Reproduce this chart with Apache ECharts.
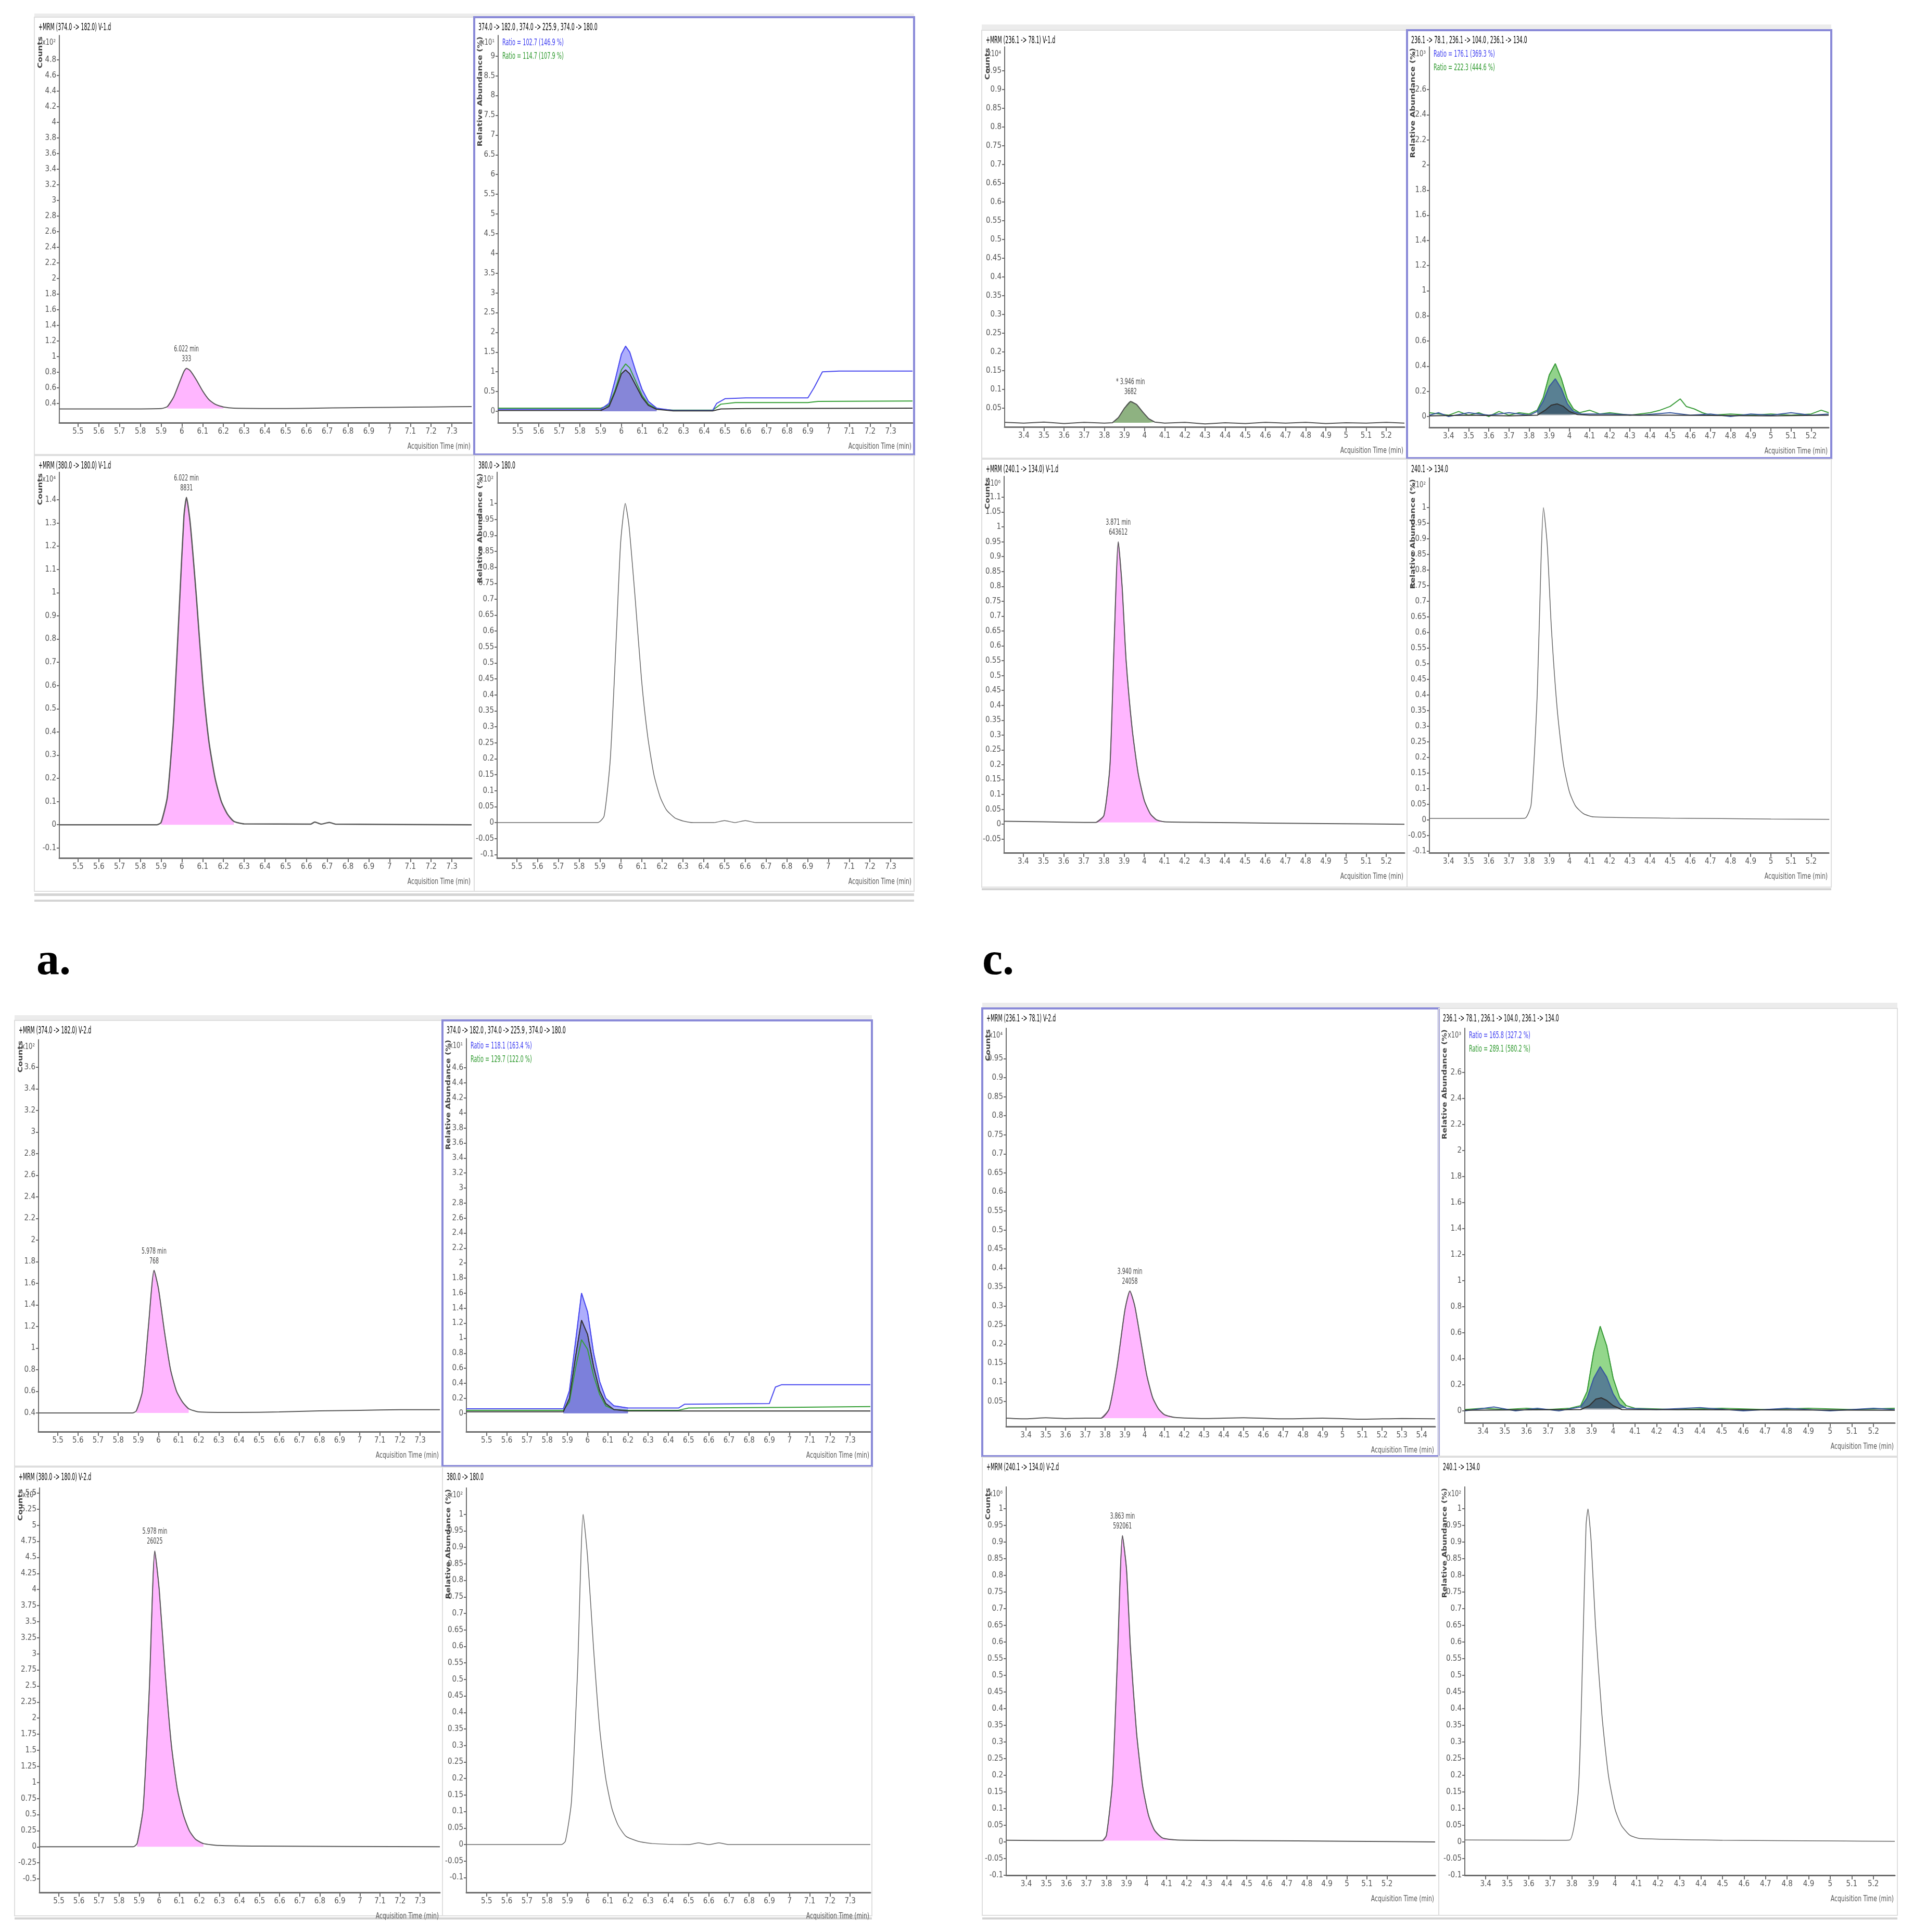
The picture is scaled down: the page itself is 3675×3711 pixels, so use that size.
<!DOCTYPE html>
<html>
<head>
<meta charset="utf-8">
<script src="https://cdn.jsdelivr.net/npm/echarts@6/dist/echarts.min.js"></script>
<style>
html,body{margin:0;padding:0;background:#fff}
#main{width:3675px;height:3711px}
</style>
</head>
<body>
<div id="main"></div>
<script>
var FONT = '"Liberation Sans Narrow","DejaVu Sans Condensed","Liberation Sans",Arial,sans-serif';
var AXIS = '#6e6e6e';
var PINK = '#ffb6ff';
var PINK_EDGE = '#8d5e8d';

// tick labels
var xTicksA = [5.5,5.6,5.7,5.8,5.9,6,6.1,6.2,6.3,6.4,6.5,6.6,6.7,6.8,6.9,7,7.1,7.2,7.3];
var xTicksC = [3.4,3.5,3.6,3.7,3.8,3.9,4,4.1,4.2,4.3,4.4,4.5,4.6,4.7,4.8,4.9,5,5.1,5.2];
var xTicksD1 = [3.4,3.5,3.6,3.7,3.8,3.9,4,4.1,4.2,4.3,4.4,4.5,4.6,4.7,4.8,4.9,5,5.1,5.2,5.3,5.4];

var yTicksA1 = [0.4,0.6,0.8,1,1.2,1.4,1.6,1.8,2,2.2,2.4,2.6,2.8,3,3.2,3.4,3.6,3.8,4,4.2,4.4,4.6,4.8];
var yTicksA2 = [0,0.5,1,1.5,2,2.5,3,3.5,4,4.5,5,5.5,6,6.5,7,7.5,8,8.5,9];
var yTicksA3 = [-0.1,0,0.1,0.2,0.3,0.4,0.5,0.6,0.7,0.8,0.9,1,1.1,1.2,1.3,1.4];
var yTicksRel = [-0.1,-0.05,0,0.05,0.1,0.15,0.2,0.25,0.3,0.35,0.4,0.45,0.5,0.55,0.6,0.65,0.7,0.75,0.8,0.85,0.9,0.95,1];
var yTicksB1 = [0.4,0.6,0.8,1,1.2,1.4,1.6,1.8,2,2.2,2.4,2.6,2.8,3,3.2,3.4,3.6];
var yTicksB2 = [0,0.2,0.4,0.6,0.8,1,1.2,1.4,1.6,1.8,2,2.2,2.4,2.6,2.8,3,3.2,3.4,3.6,3.8,4,4.2,4.4,4.6];
var yTicksB3 = [-0.5,-0.25,0,0.25,0.5,0.75,1,1.25,1.5,1.75,2,2.25,2.5,2.75,3,3.25,3.5,3.75,4,4.25,4.5,4.75,5,5.25,5.5];
var yTicksC1 = [0.05,0.1,0.15,0.2,0.25,0.3,0.35,0.4,0.45,0.5,0.55,0.6,0.65,0.7,0.75,0.8,0.85,0.9,0.95];
var yTicksC2 = [0,0.2,0.4,0.6,0.8,1,1.2,1.4,1.6,1.8,2,2.2,2.4,2.6];
var yTicksC3 = [-0.05,0,0.05,0.1,0.15,0.2,0.25,0.3,0.35,0.4,0.45,0.5,0.55,0.6,0.65,0.7,0.75,0.8,0.85,0.9,0.95,1,1.05,1.1];

// traces  [time (min), signal]
var a1Trace = [[5.41,0.33],[5.7,0.33],[5.9,0.335],[5.93,0.36],[5.96,0.48],[5.99,0.68],[6.01,0.81],[6.022,0.85],[6.04,0.82],[6.07,0.7],[6.1,0.56],[6.13,0.45],[6.16,0.39],[6.2,0.355],[6.25,0.34],[6.5,0.335],[6.65,0.34],[6.8,0.345],[7.0,0.35],[7.2,0.355],[7.395,0.36]];
var a2Blue = [[5.405,0.05],[5.9,0.05],[5.94,0.2],[5.97,0.8],[6.0,1.45],[6.02,1.65],[6.04,1.5],[6.07,1.0],[6.1,0.55],[6.13,0.25],[6.17,0.08],[6.25,0.02],[6.44,0.02],[6.46,0.2],[6.5,0.32],[6.6,0.34],[6.9,0.34],[6.93,0.6],[6.97,1.0],[7.05,1.02],[7.405,1.02]];
var a2Black = [[5.405,0.02],[5.9,0.02],[5.94,0.12],[5.97,0.5],[6.0,0.95],[6.02,1.05],[6.04,0.95],[6.07,0.65],[6.1,0.35],[6.13,0.15],[6.17,0.05],[6.25,0.01],[6.44,0.01],[6.48,0.06],[6.6,0.07],[7.405,0.08]];
var a2Green = [[5.405,0.08],[5.9,0.08],[5.94,0.15],[5.97,0.55],[6.0,1.05],[6.02,1.2],[6.04,1.1],[6.07,0.75],[6.1,0.4],[6.13,0.18],[6.17,0.06],[6.25,0.03],[6.44,0.03],[6.48,0.18],[6.55,0.22],[6.9,0.22],[6.95,0.25],[7.405,0.26]];
var a3Trace = [[5.41,0],[5.88,0],[5.9,0.01],[5.93,0.12],[5.96,0.45],[5.99,0.98],[6.01,1.33],[6.022,1.41],[6.04,1.3],[6.07,0.98],[6.1,0.62],[6.13,0.36],[6.16,0.2],[6.19,0.1],[6.22,0.045],[6.25,0.015],[6.3,0.004],[6.62,0.003],[6.64,0.012],[6.67,0.003],[6.71,0.01],[6.74,0.003],[7.395,0]];
var a4Trace = [[5.405,0],[5.89,0],[5.92,0.02],[5.95,0.2],[5.98,0.6],[6.0,0.88],[6.022,1.0],[6.04,0.93],[6.07,0.7],[6.1,0.45],[6.13,0.27],[6.16,0.15],[6.19,0.08],[6.22,0.04],[6.26,0.015],[6.3,0.005],[6.35,0],[6.45,0],[6.5,0.006],[6.55,0],[6.6,0.006],[6.65,0],[7.405,0]];

var b1Trace = [[5.404,0.4],[5.87,0.4],[5.89,0.42],[5.92,0.6],[5.95,1.2],[5.978,1.72],[6.0,1.55],[6.03,1.15],[6.06,0.8],[6.09,0.6],[6.12,0.5],[6.15,0.44],[6.2,0.41],[6.4,0.405],[6.6,0.41],[6.8,0.42],[7.0,0.425],[7.2,0.43],[7.398,0.43]];
var b2Blue = [[5.40,0.06],[5.88,0.06],[5.91,0.3],[5.94,0.95],[5.97,1.6],[6.0,1.35],[6.03,0.8],[6.06,0.42],[6.09,0.2],[6.13,0.1],[6.2,0.07],[6.45,0.07],[6.48,0.12],[6.9,0.13],[6.93,0.35],[6.96,0.38],[7.4,0.38]];
var b2Black = [[5.40,0.02],[5.88,0.02],[5.91,0.2],[5.94,0.75],[5.97,1.24],[6.0,1.05],[6.03,0.62],[6.06,0.3],[6.09,0.13],[6.13,0.05],[6.2,0.03],[7.4,0.03]];
var b2Green = [[5.40,0.04],[5.88,0.04],[5.91,0.15],[5.94,0.6],[5.97,0.98],[6.0,0.85],[6.03,0.5],[6.06,0.25],[6.09,0.1],[6.13,0.05],[6.2,0.04],[6.45,0.04],[6.5,0.07],[7.0,0.08],[7.4,0.09]];
var b3Trace = [[5.404,0],[5.87,0],[5.89,0.05],[5.92,0.6],[5.95,2.4],[5.978,4.6],[6.0,4.0],[6.03,2.7],[6.06,1.6],[6.09,0.9],[6.12,0.5],[6.15,0.25],[6.18,0.12],[6.22,0.05],[6.3,0.02],[6.5,0.01],[7.398,0]];
var b4Trace = [[5.40,0],[5.87,0],[5.89,0.01],[5.92,0.13],[5.95,0.52],[5.978,1.0],[6.0,0.87],[6.03,0.59],[6.06,0.35],[6.09,0.2],[6.12,0.11],[6.15,0.06],[6.19,0.025],[6.25,0.01],[6.32,0.003],[6.5,0],[6.55,0.005],[6.6,0],[6.65,0.005],[6.7,0],[7.4,0]];

var c1Trace = [[3.305,0.012],[3.4,0.01],[3.5,0.013],[3.6,0.009],[3.7,0.012],[3.8,0.01],[3.84,0.011],[3.87,0.025],[3.9,0.05],[3.93,0.068],[3.96,0.06],[3.99,0.04],[4.02,0.022],[4.05,0.013],[4.1,0.01],[4.2,0.012],[4.3,0.008],[4.4,0.011],[4.5,0.009],[4.6,0.012],[4.7,0.01],[4.8,0.012],[4.9,0.009],[5.0,0.011],[5.1,0.01],[5.2,0.012],[5.29,0.01]];
var c2Green = [[3.305,0.03],[3.4,0.01],[3.45,0.04],[3.5,0.01],[3.55,0.03],[3.6,0.0],[3.65,0.04],[3.7,0.01],[3.75,0.03],[3.8,0.02],[3.84,0.05],[3.87,0.15],[3.9,0.33],[3.93,0.42],[3.96,0.3],[3.99,0.14],[4.02,0.06],[4.05,0.03],[4.1,0.05],[4.15,0.02],[4.2,0.03],[4.3,0.01],[4.4,0.03],[4.45,0.05],[4.5,0.08],[4.55,0.14],[4.58,0.08],[4.62,0.06],[4.66,0.03],[4.7,0.01],[4.8,0.02],[4.9,0.01],[5.0,0.02],[5.1,0.01],[5.2,0.02],[5.25,0.05],[5.287,0.03]];
var c2Blue = [[3.305,0.01],[3.35,0.03],[3.4,0.0],[3.5,0.03],[3.6,0.01],[3.7,0.03],[3.8,0.01],[3.84,0.04],[3.87,0.12],[3.9,0.24],[3.93,0.3],[3.96,0.22],[3.99,0.1],[4.02,0.04],[4.06,0.02],[4.2,0.02],[4.35,0.01],[4.5,0.03],[4.6,0.01],[4.7,0.02],[4.8,0.0],[4.9,0.02],[5.0,0.01],[5.1,0.03],[5.2,0.01],[5.287,0.02]];
var c2Black = [[3.305,0.005],[3.5,0.01],[3.7,0.005],[3.84,0.01],[3.88,0.05],[3.91,0.09],[3.94,0.1],[3.97,0.08],[4.0,0.04],[4.04,0.015],[4.1,0.01],[4.5,0.01],[5.0,0.005],[5.287,0.01]];
var c3Trace = [[3.305,0.01],[3.5,0.008],[3.7,0.006],[3.76,0.006],[3.8,0.03],[3.83,0.2],[3.85,0.6],[3.871,0.95],[3.89,0.8],[3.91,0.55],[3.94,0.32],[3.97,0.17],[4.0,0.08],[4.03,0.035],[4.06,0.015],[4.1,0.008],[4.3,0.006],[4.6,0.004],[4.9,0.002],[5.29,0.0]];
var c4Trace = [[3.305,0.005],[3.7,0.005],[3.78,0.006],[3.81,0.05],[3.84,0.4],[3.86,0.85],[3.871,1.0],[3.89,0.88],[3.91,0.62],[3.94,0.35],[3.97,0.18],[4.0,0.09],[4.03,0.045],[4.07,0.02],[4.12,0.01],[4.5,0.006],[5.0,0.003],[5.29,0.002]];

var d1Trace = [[3.3,0.006],[3.4,0.004],[3.5,0.007],[3.6,0.005],[3.7,0.006],[3.78,0.006],[3.82,0.03],[3.86,0.14],[3.9,0.29],[3.925,0.34],[3.95,0.3],[3.98,0.21],[4.01,0.12],[4.04,0.06],[4.07,0.03],[4.1,0.015],[4.15,0.008],[4.3,0.005],[4.5,0.007],[4.7,0.004],[4.9,0.006],[5.1,0.003],[5.3,0.005],[5.468,0.004]];
var d2Green = [[3.316,0.01],[3.4,0.02],[3.5,0.01],[3.6,0.02],[3.7,0.01],[3.8,0.02],[3.85,0.04],[3.88,0.15],[3.91,0.45],[3.94,0.65],[3.97,0.5],[4.0,0.25],[4.03,0.1],[4.06,0.04],[4.1,0.02],[4.3,0.01],[4.5,0.02],[4.7,0.01],[4.9,0.02],[5.1,0.01],[5.298,0.02]];
var d2Blue = [[3.316,0.0],[3.45,0.03],[3.55,0.0],[3.65,0.02],[3.75,0.0],[3.85,0.03],[3.88,0.1],[3.91,0.25],[3.94,0.34],[3.97,0.26],[4.0,0.13],[4.03,0.05],[4.06,0.02],[4.2,0.01],[4.4,0.025],[4.6,0.0],[4.8,0.02],[5.0,0.0],[5.2,0.02],[5.298,0.01]];
var d2Black = [[3.316,0.005],[3.85,0.01],[3.89,0.04],[3.92,0.09],[3.945,0.1],[3.97,0.08],[4.0,0.04],[4.04,0.01],[5.298,0.005]];
var d3Trace = [[3.30,0.005],[3.6,0.004],[3.78,0.004],[3.8,0.02],[3.83,0.18],[3.855,0.55],[3.88,0.92],[3.9,0.82],[3.92,0.58],[3.95,0.33],[3.98,0.17],[4.01,0.08],[4.04,0.035],[4.08,0.012],[4.15,0.006],[4.5,0.004],[5.0,0.002],[5.44,0.0]];
var d4Trace = [[3.303,0.006],[3.7,0.005],[3.79,0.006],[3.83,0.15],[3.85,0.55],[3.866,0.95],[3.875,1.0],[3.89,0.9],[3.91,0.65],[3.94,0.38],[3.97,0.2],[4.0,0.1],[4.03,0.05],[4.07,0.02],[4.12,0.01],[4.5,0.005],[5.0,0.003],[5.3,0.002]];

// peak annotations: [time, height, retention text, area text]
var peakA1 = [6.022, 0.85, '6.022 min', '333'];
var peakA3 = [6.022, 1.41, '6.022 min', '8831'];
var peakB1 = [5.978, 1.72, '5.978 min', '768'];
var peakB3 = [5.978, 4.6, '5.978 min', '26025'];
var peakC1 = [3.93, 0.068, '* 3.946 min', '3682'];
var peakC3 = [3.871, 0.95, '3.871 min', '643612'];
var peakD1 = [3.925, 0.34, '3.940 min', '24058'];
var peakD3 = [3.88, 0.92, '3.863 min', '592061'];

var chart = echarts.init(document.getElementById('main'), null, {renderer: 'canvas'});

// panel layout: frame [l,t,w,h], grid [l,t,w,h] in px
var panels = [
  {frame:[66,33,845,840], grid:[114,68,792,744], x:[5.41,7.395], xt:xTicksA, y:[0.153,5.113], yt:yTicksA1, exp:'x10²', yname:'Counts',
   title:'{k|+MRM (374.0 -> 182.0) V-1.d}'},
  {frame:[911,33,845,840], grid:[957,68,796,744], x:[5.405,7.405], xt:xTicksA, y:[-0.29,9.525], yt:yTicksA2, exp:'x10¹', yname:'Relative Abundance (%)', sel:true,
   title:'{k|374.0 -> 182.0} {b|, 374.0 -> 225.9} {g|, 374.0 -> 180.0}', ratio:['Ratio = 102.7 (146.9 %)','Ratio = 114.7 (107.9 %)']},
  {frame:[66,875,845,837], grid:[114,907,792,741], x:[5.41,7.395], xt:xTicksA, y:[-0.143,1.519], yt:yTicksA3, exp:'x10⁴', yname:'Counts',
   title:'{k|+MRM (380.0 -> 180.0) V-1.d}'},
  {frame:[911,875,845,837], grid:[955,907,798,741], x:[5.405,7.405], xt:xTicksA, y:[-0.111,1.098], yt:yTicksRel, exp:'x10²', yname:'Relative Abundance (%)',
   title:'{k|380.0 -> 180.0}'},

  {frame:[1886,58,817,822], grid:[1930,90,768,730], x:[3.305,5.29], xt:xTicksC, y:[0,1.014], yt:yTicksC1, exp:'x10⁴', yname:'Counts',
   title:'{k|+MRM (236.1 -> 78.1) V-1.d}'},
  {frame:[2703,58,815,822], grid:[2746,90,767,731], x:[3.305,5.287], xt:xTicksC, y:[-0.087,2.94], yt:yTicksC2, exp:'x10³', yname:'Relative Abundance (%)', sel:true,
   title:'{k|236.1 -> 78.1} {b|, 236.1 -> 104.0} {g|, 236.1 -> 134.0}', ratio:['Ratio = 176.1 (369.3 %)','Ratio = 222.3 (444.6 %)']},
  {frame:[1886,882,817,822], grid:[1929,915,769,723], x:[3.305,5.29], xt:xTicksC, y:[-0.096,1.17], yt:yTicksC3, exp:'x10⁶', yname:'Counts',
   title:'{k|+MRM (240.1 -> 134.0) V-1.d}'},
  {frame:[2703,882,815,822], grid:[2746,918,767,720], x:[3.305,5.287], xt:xTicksC, y:[-0.105,1.095], yt:yTicksRel, exp:'x10²', yname:'Relative Abundance (%)',
   title:'{k|240.1 -> 134.0}'},

  {frame:[28,1960,822,856], grid:[74,1997,771,753], x:[5.404,7.398], xt:xTicksA, y:[0.227,3.855], yt:yTicksB1, exp:'x10²', yname:'Counts',
   title:'{k|+MRM (374.0 -> 182.0) V-2.d}'},
  {frame:[850,1960,825,856], grid:[896,1995,776,755], x:[5.40,7.40], xt:xTicksA, y:[-0.245,4.99], yt:yTicksB2, exp:'x10¹', yname:'Relative Abundance (%)', sel:true,
   title:'{k|374.0 -> 182.0} {b|, 374.0 -> 225.9} {g|, 374.0 -> 180.0}', ratio:['Ratio = 118.1 (163.4 %)','Ratio = 129.7 (122.0 %)']},
  {frame:[28,2818,822,862], grid:[76,2858,769,777], x:[5.404,7.398], xt:xTicksA, y:[-0.71,5.58], yt:yTicksB3, exp:'x10³', yname:'Counts',
   title:'{k|+MRM (380.0 -> 180.0) V-2.d}'},
  {frame:[850,2818,825,862], grid:[896,2858,776,777], x:[5.40,7.40], xt:xTicksA, y:[-0.145,1.08], yt:yTicksRel, exp:'x10²', yname:'Relative Abundance (%)',
   title:'{k|380.0 -> 180.0}'},

  {frame:[1887,1937,877,860], grid:[1933,1975,824,765], x:[3.30,5.468], xt:xTicksD1, y:[-0.016,1.03], yt:yTicksC1, exp:'x10⁴', yname:'Counts', sel:true,
   title:'{k|+MRM (236.1 -> 78.1) V-2.d}'},
  {frame:[2764,1937,881,860], grid:[2814,1975,826,758], x:[3.316,5.298], xt:xTicksC, y:[-0.092,2.94], yt:yTicksC2, exp:'x10³', yname:'Relative Abundance (%)',
   title:'{k|236.1 -> 78.1} {b|, 236.1 -> 104.0} {g|, 236.1 -> 134.0}', ratio:['Ratio = 165.8 (327.2 %)','Ratio = 289.1 (580.2 %)']},
  {frame:[1887,2799,877,880], grid:[1933,2856,824,746], x:[3.30,5.44], xt:xTicksC, y:[-0.1,1.066], yt:yTicksRel, exp:'x10⁶', yname:'Counts',
   title:'{k|+MRM (240.1 -> 134.0) V-2.d}'},
  {frame:[2764,2799,881,880], grid:[2814,2856,826,746], x:[3.303,5.30], xt:xTicksC, y:[-0.1,1.066], yt:yTicksRel, exp:'x10²', yname:'Relative Abundance (%)',
   title:'{k|240.1 -> 134.0}'}
];

var grids = [], xAxes = [], yAxes = [], series = [], graphics = [];
var richTitle = {
  k: {fontSize: 19, fontFamily: FONT, color: '#333'},
  b: {fontSize: 19, fontFamily: FONT, color: '#3b3bf0'},
  g: {fontSize: 19, fontFamily: FONT, color: '#2f9a2f'}
};

panels.forEach(function (p, i) {
  var g = p.grid, f = p.frame;
  grids.push({left: g[0], top: g[1], width: g[2], height: g[3], containLabel: false});
  xAxes.push({
    type: 'value', gridIndex: i, min: p.x[0], max: p.x[1],
    axisLine: {show: true, onZero: false, lineStyle: {color: AXIS, width: 3}},
    axisTick: {show: true, customValues: p.xt, length: 8, lineStyle: {color: AXIS, width: 2}},
    axisLabel: {customValues: p.xt, fontSize: 15, fontFamily: FONT, color: '#555', margin: 10},
    splitLine: {show: false}
  });
  yAxes.push({
    type: 'value', gridIndex: i, min: p.y[0], max: p.y[1],
    axisLine: {show: true, onZero: false, lineStyle: {color: AXIS, width: 2}},
    axisTick: {show: true, customValues: p.yt, length: 5, lineStyle: {color: AXIS, width: 2}},
    axisLabel: {customValues: p.yt, fontSize: 15, fontFamily: FONT, color: '#555', margin: 6},
    splitLine: {show: false}
  });
  graphics.push({type: 'rect', shape: {x: f[0], y: f[1], width: f[2], height: f[3]},
    style: {fill: 'none', stroke: p.sel ? '#8a8ad8' : '#dedede', lineWidth: p.sel ? 4 : 2}, z: 1});
  graphics.push({type: 'text', x: f[0] + 8, y: f[1] + 20, scaleX: 0.55,
    style: {text: p.title, rich: richTitle, textVerticalAlign: 'middle'}, z: 5});
  graphics.push({type: 'text', x: g[0] - 7, y: g[1] + 14, scaleX: 0.8,
    style: {text: p.exp, fontSize: 16, fontFamily: FONT, fill: '#555', textAlign: 'right', textVerticalAlign: 'middle'}, z: 5});
  graphics.push({type: 'text', x: f[0] + 12, y: g[1] + 2, rotation: Math.PI / 2, scaleX: 1.45,
    style: {text: p.yname, fontSize: 12, fontFamily: FONT, fill: '#444', fontWeight: 'bold', textAlign: 'right', textVerticalAlign: 'middle'}, z: 5});
  graphics.push({type: 'text', x: g[0] + g[2] - 2, y: g[1] + g[3] + 46, scaleX: 0.75,
    style: {text: 'Acquisition Time (min)', fontSize: 16, fontFamily: FONT, fill: '#555', textAlign: 'right', textVerticalAlign: 'middle'}, z: 5});
  if (p.ratio) {
    graphics.push({type: 'text', x: g[0] + 8, y: g[1] + 14, scaleX: 0.6,
      style: {text: p.ratio[0], fontSize: 18, fontFamily: FONT, fill: '#3b3bf0', textVerticalAlign: 'middle'}, z: 5});
    graphics.push({type: 'text', x: g[0] + 8, y: g[1] + 40, scaleX: 0.6,
      style: {text: p.ratio[1], fontSize: 18, fontFamily: FONT, fill: '#2f9a2f', textVerticalAlign: 'middle'}, z: 5});
  }
});

function segment(data, from, to) {
  return data.filter(function (d) { return d[0] >= from && d[0] <= to; });
}
// smooth only single-peak traces; step / noisy traces stay straight
function line(i, data, color, width, smooth) {
  series.push({type: 'line', xAxisIndex: i, yAxisIndex: i, data: data, symbol: 'none', silent: true,
    smooth: smooth ? 0.2 : false, lineStyle: {color: color, width: width}, z: 3});
}
var peaks = [];
function area(i, data, fill, edge, origin, peak, smooth) {
  series.push({type: 'line', xAxisIndex: i, yAxisIndex: i, data: data, symbol: 'none', silent: true,
    smooth: smooth ? 0.2 : false,
    lineStyle: {color: edge, width: 1.5}, areaStyle: {color: fill, opacity: 1, origin: origin}, z: 2});
  if (peak) peaks.push([i, peak]);
}

// A: sample V-1, first analyte
area(0, segment(a1Trace, 5.92, 6.22), PINK, PINK_EDGE, 0.335, peakA1, true);
line(0, a1Trace, '#5a5a5a', 2, true);
area(1, segment(a2Blue, 5.9, 6.2), 'rgba(120,120,250,0.6)', '#4b4bef', 0);
area(1, segment(a2Black, 5.9, 6.2), 'rgba(60,60,150,0.35)', '#333', 0);
line(1, a2Green, '#36a036', 2);
line(1, a2Blue, '#4b4bef', 2);
line(1, a2Black, '#333', 2);
area(2, segment(a3Trace, 5.9, 6.25), PINK, PINK_EDGE, 0, peakA3, true);
line(2, a3Trace, '#5a5a5a', 2.5, true);
line(3, a4Trace, '#666', 1.5, true);

// C: sample V-1, second analyte
area(4, segment(c1Trace, 3.84, 4.05), 'rgba(130,170,115,0.9)', '#557755', 0.011, peakC1, true);
line(4, c1Trace, '#555', 2);
area(5, segment(c2Green, 3.84, 4.05), 'rgba(110,195,100,0.75)', '#3c9d3c', 0.02);
area(5, segment(c2Blue, 3.84, 4.06), 'rgba(70,100,150,0.75)', '#2b4b8a', 0.02);
area(5, segment(c2Black, 3.84, 4.04), 'rgba(40,60,80,0.5)', '#333', 0.01);
line(5, c2Green, '#3c9d3c', 2);
line(5, c2Blue, '#3a5aa0', 2);
line(5, c2Black, '#333', 2);
area(6, segment(c3Trace, 3.76, 4.1), PINK, PINK_EDGE, 0.006, peakC3, true);
line(6, c3Trace, '#5a5a5a', 2, true);
line(7, c4Trace, '#666', 1.5, true);

// B: sample V-2, first analyte
area(8, segment(b1Trace, 5.89, 6.15), PINK, PINK_EDGE, 0.4, peakB1, true);
line(8, b1Trace, '#5a5a5a', 2, true);
area(9, segment(b2Blue, 5.88, 6.2), 'rgba(120,120,250,0.6)', '#4b4bef', 0);
area(9, segment(b2Black, 5.88, 6.2), 'rgba(50,60,170,0.4)', '#333', 0);
line(9, b2Green, '#36a036', 2);
line(9, b2Blue, '#4b4bef', 2);
line(9, b2Black, '#333', 2);
area(10, segment(b3Trace, 5.89, 6.22), PINK, PINK_EDGE, 0, peakB3, true);
line(10, b3Trace, '#5a5a5a', 2, true);
line(11, b4Trace, '#666', 1.5, true);

// D: sample V-2, second analyte
area(12, segment(d1Trace, 3.78, 4.15), PINK, PINK_EDGE, 0.006, peakD1, true);
line(12, d1Trace, '#5a5a5a', 2, true);
area(13, segment(d2Green, 3.85, 4.06), 'rgba(120,205,110,0.8)', '#3c9d3c', 0.02);
area(13, segment(d2Blue, 3.85, 4.06), 'rgba(70,100,150,0.75)', '#2b4b8a', 0.02);
area(13, segment(d2Black, 3.85, 4.04), 'rgba(40,60,80,0.5)', '#333', 0.01);
line(13, d2Green, '#3c9d3c', 2);
line(13, d2Blue, '#3a5aa0', 2);
line(13, d2Black, '#333', 2);
area(14, segment(d3Trace, 3.78, 4.15), PINK, PINK_EDGE, 0.004, peakD3, true);
line(14, d3Trace, '#5a5a5a', 2, true);
line(15, d4Trace, '#666', 1.5, true);

// window chrome strips and group letters
[[66,26,1690,7],[1886,47,1632,11],[28,1950,1647,10],[1887,1926,1758,11]].forEach(function (r) {
  graphics.push({type: 'rect', shape: {x: r[0], y: r[1], width: r[2], height: r[3]}, style: {fill: '#ececec'}, z: 0});
});
[[66,1716,1690,5],[66,1728,1690,4],[28,3683,1647,4],[1887,3683,1758,4],[1886,1706,1632,4]].forEach(function (r) {
  graphics.push({type: 'rect', shape: {x: r[0], y: r[1], width: r[2], height: r[3]}, style: {fill: '#d4d4d4'}, z: 0});
});
graphics.push({type: 'text', x: 70, y: 1848,
  style: {text: 'a.', fontSize: 88, fontWeight: 'bold', fontFamily: '"Liberation Serif","DejaVu Serif",serif', fill: '#000', textVerticalAlign: 'middle'}});
graphics.push({type: 'text', x: 1887, y: 1848,
  style: {text: 'c.', fontSize: 88, fontWeight: 'bold', fontFamily: '"Liberation Serif","DejaVu Serif",serif', fill: '#000', textVerticalAlign: 'middle'}});

var option = {
  animation: false,
  backgroundColor: '#fff',
  grid: grids,
  xAxis: xAxes,
  yAxis: yAxes,
  series: series,
  graphic: graphics
};
chart.setOption(option);

// peak labels placed through the panel scales
peaks.forEach(function (pk) {
  var pt = chart.convertToPixel({gridIndex: pk[0]}, [pk[1][0], pk[1][1]]);
  graphics.push({type: 'text', x: pt[0], y: pt[1] - 8, scaleX: 0.7,
    style: {text: pk[1][2] + '\n' + pk[1][3], fontSize: 15, lineHeight: 19, fontFamily: FONT, fill: '#444',
      textAlign: 'center', textVerticalAlign: 'bottom'}, z: 6});
});
chart.setOption({graphic: graphics});
</script>
</body>
</html>
